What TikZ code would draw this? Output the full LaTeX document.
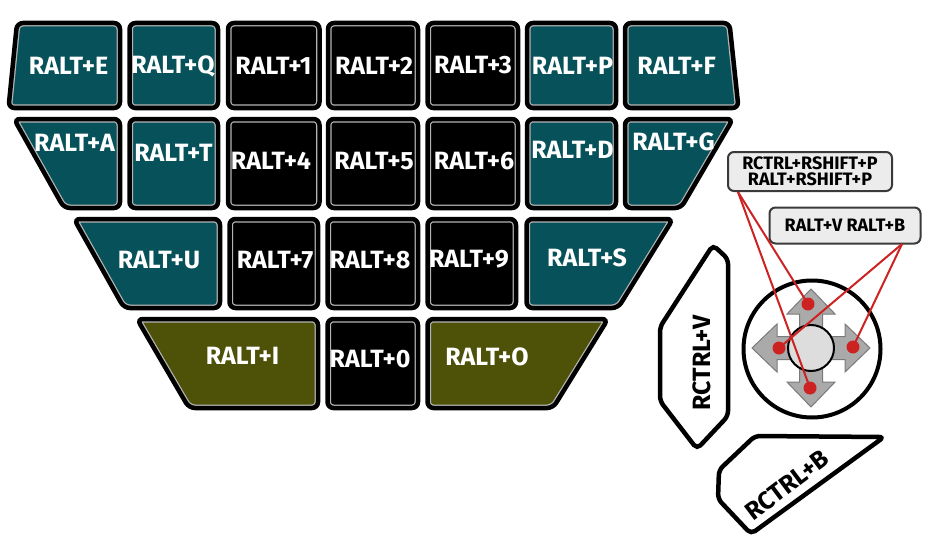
\documentclass[tikz,border=0pt]{standalone}
\usepackage{fontspec}
\setmainfont{Fira Sans}
\usetikzlibrary{calc}
\definecolor{teal}{HTML}{07525A}
\definecolor{olive}{HTML}{4E5108}
\definecolor{keyedge}{HTML}{B4B4B4}
\definecolor{dotred}{HTML}{CC2222}
\definecolor{arrowgrey}{HTML}{AAAAAA}
\definecolor{arrowline}{HTML}{7A7A7A}
\definecolor{hubgrey}{HTML}{DDDDDD}
\definecolor{boxfill}{HTML}{ECECEC}
\definecolor{boxline}{HTML}{3A3A3A}
\tikzset{
  keyborder/.style={draw=black, line width=4.5pt, rounded corners=6pt},
  keyline/.style={draw=keyedge, line width=7pt, rounded corners=6pt},
  klabel/.style={text=white, inner sep=0pt, font=\bfseries\fontsize{25}{25}\selectfont},
  blabel/.style={text=black, inner sep=0pt, font=\bfseries\fontsize{25}{25}\selectfont},
  callout/.style={draw=boxline, line width=2pt, fill=boxfill, rounded corners=6pt, inner sep=0pt, align=center, text=black, font=\bfseries\fontsize{18}{16}\selectfont},
  redline/.style={draw=dotred, line width=2pt},
  reddot/.style={circle, fill=dotred, inner sep=0pt, minimum size=13pt},
}
\newcommand{\kbkey}[2]{%
  \fill[#1, rounded corners=6pt] #2 -- cycle;
  \begin{scope}
    \clip[rounded corners=6pt] #2 -- cycle;
    \draw[keyline] #2 -- cycle;
  \end{scope}
  \draw[keyborder] #2 -- cycle;
}
\begin{document}
\begin{tikzpicture}[x=1pt,y=-1pt]
\useasboundingbox (0,0) rectangle (927,543);
% ---- row 1
\kbkey{teal}{(17,23) -- (120,23) -- (120,108) -- (8.5,108)}
\kbkey{teal}{(129.5,23) -- (218,23) -- (218,108) -- (129.5,108)}
\kbkey{black}{(228,23) -- (319.5,23) -- (319.5,108) -- (228,108)}
\kbkey{black}{(328,23) -- (418,23) -- (418,108) -- (328,108)}
\kbkey{black}{(427.5,23) -- (518,23) -- (518,108) -- (427.5,108)}
\kbkey{teal}{(527,23) -- (616,23) -- (616,108) -- (527,108)}
\kbkey{teal}{(625,23) -- (729.5,23) -- (738.5,108) -- (625,108)}
% ---- row 2
\kbkey{teal}{(14,119) -- (120,119) -- (120,208) -- (64,208)}
\kbkey{teal}{(129.5,119) -- (218,119) -- (218,208) -- (129.5,208)}
\kbkey{black}{(228,119) -- (319.5,119) -- (319.5,208) -- (228,208)}
\kbkey{black}{(328,119) -- (418,119) -- (418,208) -- (328,208)}
\kbkey{black}{(427.5,119) -- (518,119) -- (518,208) -- (427.5,208)}
\kbkey{teal}{(527,119) -- (616,119) -- (616,208) -- (527,208)}
\kbkey{teal}{(625,119) -- (733,119) -- (681,208) -- (625,208)}
% ---- row 3
\kbkey{teal}{(74,219) -- (220,219) -- (220,308) -- (124,308)}
\kbkey{black}{(229.5,219) -- (318,219) -- (318,308) -- (229.5,308)}
\kbkey{black}{(327.5,219) -- (418,219) -- (418,308) -- (327.5,308)}
\kbkey{black}{(427.5,219) -- (516,219) -- (516,308) -- (427.5,308)}
\kbkey{teal}{(526.5,219) -- (673,219) -- (618,308) -- (526.5,308)}
% ---- row 4
\kbkey{olive}{(137,319) -- (318,319) -- (318,408) -- (189,408)}
\kbkey{black}{(327.5,319) -- (418,319) -- (418,408) -- (327.5,408)}
\kbkey{olive}{(427.5,319) -- (608,319) -- (553,408) -- (427.5,408)}
% ---- labels
\node[klabel] (kE) at (68.5,66) {RALT+E};
\node[klabel] (kQ) at (173,66) {RALT+Q};
\node[klabel] (k1) at (273.5,66) {RALT+1};
\node[klabel] (k2) at (374,66) {RALT+2};
\node[klabel] (k3) at (473,65) {RALT+3};
\node[klabel] (kP) at (572.5,66) {RALT+P};
\node[klabel] (kF) at (676.5,66) {RALT+F};
\node[klabel] (kA) at (74.5,142.5) {RALT+A};
\node[klabel] (kT) at (173.5,153) {RALT+T};
\node[klabel] (k4) at (271,161) {RALT+4};
\node[klabel] (k5) at (374,161) {RALT+5};
\node[klabel] (k6) at (474,161) {RALT+6};
\node[klabel] (kD) at (572.5,150) {RALT+D};
\node[klabel] (kG) at (673.5,141.5) {RALT+G};
\node[klabel] (kU) at (159,260.5) {RALT+U};
\node[klabel] (k7) at (275,260.5) {RALT+7};
\node[klabel] (k8) at (370,260) {RALT+8};
\node[klabel] (k9) at (469,259.5) {RALT+9};
\node[klabel] (kS) at (587,258) {RALT+S};
\node[klabel] (kI) at (242.5,356) {RALT+I};
\node[klabel] (k0) at (370,359) {RALT+0};
\node[klabel] (kO) at (487,357) {RALT+O};
% ---- thumb keys
\fill[white, rounded corners=5pt] (713,245) -- (728,259) -- (728,416) -- (697,449) -- (660,401) -- (660,327) -- cycle;
\draw[keyborder, rounded corners=5pt] (713,245) -- (728,259) -- (728,416) -- (697,449) -- (660,401) -- (660,327) -- cycle;
\node[blabel, rotate=90] (kV) at (702,363) {RCTRL+V};
\fill[white, rounded corners=5pt] (755,436) -- (884,437) -- (751,534) -- (718,499) -- (719,470) -- cycle;
\draw[keyborder, rounded corners=5pt] (755,436) -- (884,437) -- (751,534) -- (718,499) -- (719,470) -- cycle;
\node[blabel, rotate=37] (kB) at (787,485) {RCTRL+B};
% ---- joystick
\node[circle, draw=black, line width=4pt, fill=white, minimum size=137pt, inner sep=0pt] (ring) at (812,349) {};
\coordinate (c) at (811,348);
\fill[arrowgrey, draw=arrowline, line width=1pt]
  ($(c)+(0,-59)$) -- ++(24,25) -- ++(-12.5,0) -- ++(0,22.5) -- ++(22.5,0) -- ++(0,-12.5) -- ++(25,24)
  -- ++(-25,24) -- ++(0,-12.5) -- ++(-22.5,0) -- ++(0,22.5) -- ++(12.5,0) -- ++(-24,25)
  -- ++(-24,-25) -- ++(12.5,0) -- ++(0,-22.5) -- ++(-22.5,0) -- ++(0,12.5) -- ++(-25,-24)
  -- ++(25,-24) -- ++(0,12.5) -- ++(22.5,0) -- ++(0,-22.5) -- ++(-12.5,0) -- cycle;
\node[circle, draw=black, line width=2pt, fill=hubgrey, minimum size=46pt, inner sep=0pt] (hub) at (c) {};
% ---- callouts
\node[callout, minimum width=164pt, minimum height=39pt] (box1) at (810,171.5) {RCTRL+RSHIFT+P\\RALT+RSHIFT+P};
\node[callout, minimum width=151pt, minimum height=36pt] (box2) at (845,225.5) {RALT+V RALT+B};
\coordinate (p1) at (738,192);
\coordinate (p2) at (902,244);
\coordinate (dU) at (808,304);
\coordinate (dD) at (810,388);
\coordinate (dL) at (779,348);
\coordinate (dR) at (853,347);
\draw[redline] (p1) -- (dU);
\draw[redline] (p1) -- (dD);
\draw[redline] (p2) -- (dL);
\draw[redline] (p2) -- (dR);
\node[reddot] (nU) at (dU) {};
\node[reddot] (nD) at (dD) {};
\node[reddot] (nL) at (dL) {};
\node[reddot] (nR) at (dR) {};
\end{tikzpicture}
\end{document}
